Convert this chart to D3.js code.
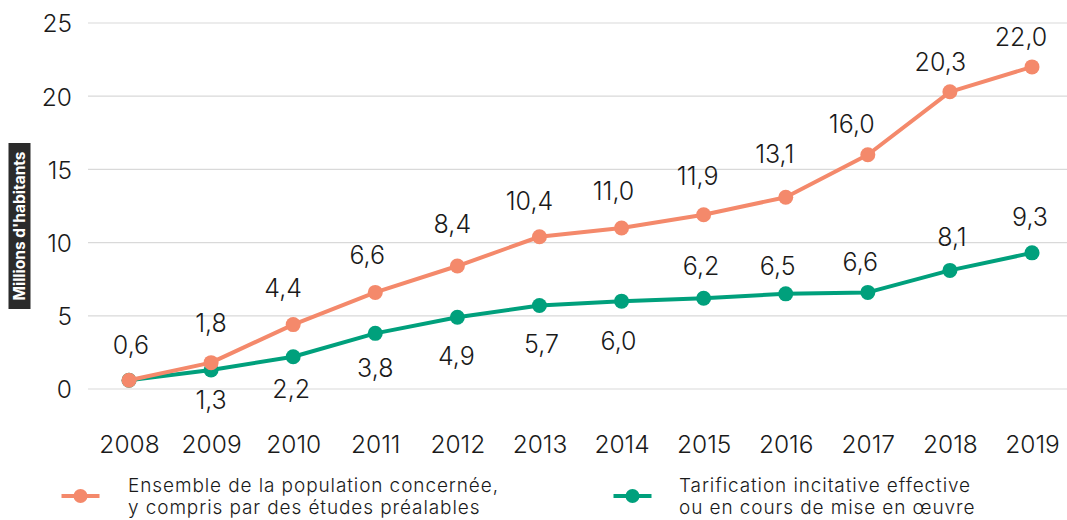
<!DOCTYPE html>
<html>
<head>
<meta charset="utf-8">
<script src="https://cdn.jsdelivr.net/npm/d3@7"></script>
<style>
  html, body { margin: 0; padding: 0; background: #fff; }
  svg { display: block; }
  svg text { font-family: Inter, "Noto Sans", sans-serif; }
</style>
</head>
<body>
<svg id="chart" width="1067" height="520"></svg>
<script>
// Population covered by incentive waste pricing, millions of inhabitants
const years = [2008, 2009, 2010, 2011, 2012, 2013, 2014, 2015, 2016, 2017, 2018, 2019];
const totalPop = [0.6, 1.8, 4.4, 6.6, 8.4, 10.4, 11.0, 11.9, 13.1, 16.0, 20.3, 22.0];
const effective = [0.6, 1.3, 2.2, 3.8, 4.9, 5.7, 6.0, 6.2, 6.5, 6.6, 8.1, 9.3];
const yTicks = [0, 5, 10, 15, 20, 25];
const seriesNames = [
  ["Ensemble de la population concernée,", "y compris par des études préalables"],
  ["Tarification incitative effective", "ou en cours de mise en œuvre"]
];
const yTitle = "Millions d'habitants";

// hand-placed label nudges (px) relative to each point
const totalLabelDx = [2, 0, -10, -8, -5, -10, -8, -6, -11, -16, -9.5, -11];
const totalLabelDy = [-35, -40, -37, -37, -42, -36, -37, -39, -43, -31, -30, -30];
const effLabelDx = [null, 0, -2, 0, -1, 2, -3, -2.5, -8, -7.5, 2, -2];
const effLabelDy = [null, 30, 32, 35, 39, 38, 40, -32, -28, -30, -33, -36];

const orange = "#f4896b";
const green = "#00a07c";
const ink = "#1a1a1a";
const FONT = 'Inter, "Noto Sans", sans-serif';

const svg = d3.select("#chart");
const x = d3.scalePoint().domain(years).range([129, 1032]);
const y = d3.scaleLinear().domain([0, 25]).range([389, 23]);
const fmt = v => d3.format(".1f")(v).replace(".", ",");

// horizontal grid
svg.append("g").selectAll("line").data(yTicks).join("line")
  .attr("x1", 88).attr("x2", 1067)
  .attr("y1", d => y(d)).attr("y2", d => y(d))
  .attr("stroke", "#d9d9d9").attr("stroke-width", 1.2);

// y tick labels
const yAxis = d3.axisLeft(y).tickValues(yTicks).tickSize(0).tickPadding(0);
const gy = svg.append("g").attr("transform", "translate(72,0)").call(yAxis)
  .attr("font-family", FONT);
gy.select(".domain").remove();
gy.selectAll("text")
  .attr("fill", ink).attr("font-size", 24.5).attr("font-weight", 300)
  .attr("dy", "0.36em");

// x axis labels
const xAxis = d3.axisBottom(x).tickSize(0).tickPadding(0);
const gx = svg.append("g").attr("transform", "translate(0,444)").call(xAxis)
  .attr("font-family", FONT);
gx.select(".domain").remove();
gx.selectAll("text")
  .attr("fill", ink).attr("font-size", 24.5).attr("font-weight", 300)
  .attr("dy", "0.36em");

// y axis title in dark box
const titleG = svg.append("g").attr("transform", "translate(19.5,226) rotate(-90)");
titleG.append("rect")
  .attr("x", -83).attr("y", -11).attr("width", 166).attr("height", 22)
  .attr("fill", "#2b2b2b");
titleG.append("text")
  .attr("text-anchor", "middle").attr("dy", "0.36em")
  .attr("fill", "#fff").attr("font-size", 15.5).attr("font-weight", 700)
  .text(yTitle);

const line = d3.line().x((d, i) => x(years[i])).y(d => y(d));

function drawSeries(vals, color) {
  svg.append("path").datum(vals)
    .attr("fill", "none").attr("stroke", color).attr("stroke-width", 4)
    .attr("stroke-linejoin", "round")
    .attr("d", line);
  svg.append("g").selectAll("circle").data(vals).join("circle")
    .attr("cx", (d, i) => x(years[i])).attr("cy", d => y(d))
    .attr("r", 7.5).attr("fill", color);
}

drawSeries(effective, green);
drawSeries(totalPop, orange);

// value labels
function drawLabels(vals, dxs, dys) {
  const items = vals.map((v, i) => ({ v, i })).filter(d => dxs[d.i] !== null);
  svg.append("g").selectAll("text").data(items).join("text")
    .attr("x", d => x(years[d.i]) + dxs[d.i])
    .attr("y", d => y(d.v) + dys[d.i])
    .attr("text-anchor", "middle").attr("dy", "0.36em")
    .attr("font-size", 25).attr("font-weight", 300).attr("fill", ink)
    .text(d => fmt(d.v));
}
drawLabels(totalPop, totalLabelDx, totalLabelDy);
drawLabels(effective, effLabelDx, effLabelDy);

// legend
const legend = [
  { color: orange, x: 80.5, tx: 128, lines: seriesNames[0] },
  { color: green, x: 632.5, tx: 679, lines: seriesNames[1] }
];
const lg = svg.append("g").selectAll("g").data(legend).join("g");
lg.append("line")
  .attr("x1", d => d.x - 19).attr("x2", d => d.x + 19)
  .attr("y1", 496).attr("y2", 496)
  .attr("stroke", d => d.color).attr("stroke-width", 4);
lg.append("circle")
  .attr("cx", d => d.x).attr("cy", 496).attr("r", 7)
  .attr("fill", d => d.color);
lg.each(function (d) {
  const g = d3.select(this);
  d.lines.forEach((t, k) => {
    g.append("text")
      .attr("x", d.tx).attr("y", 492 + k * 21.5)
      .attr("font-size", 19).attr("font-weight", 300).attr("fill", ink)
      .attr("letter-spacing", 0.9)
      .text(t);
  });
});
</script>
</body>
</html>
